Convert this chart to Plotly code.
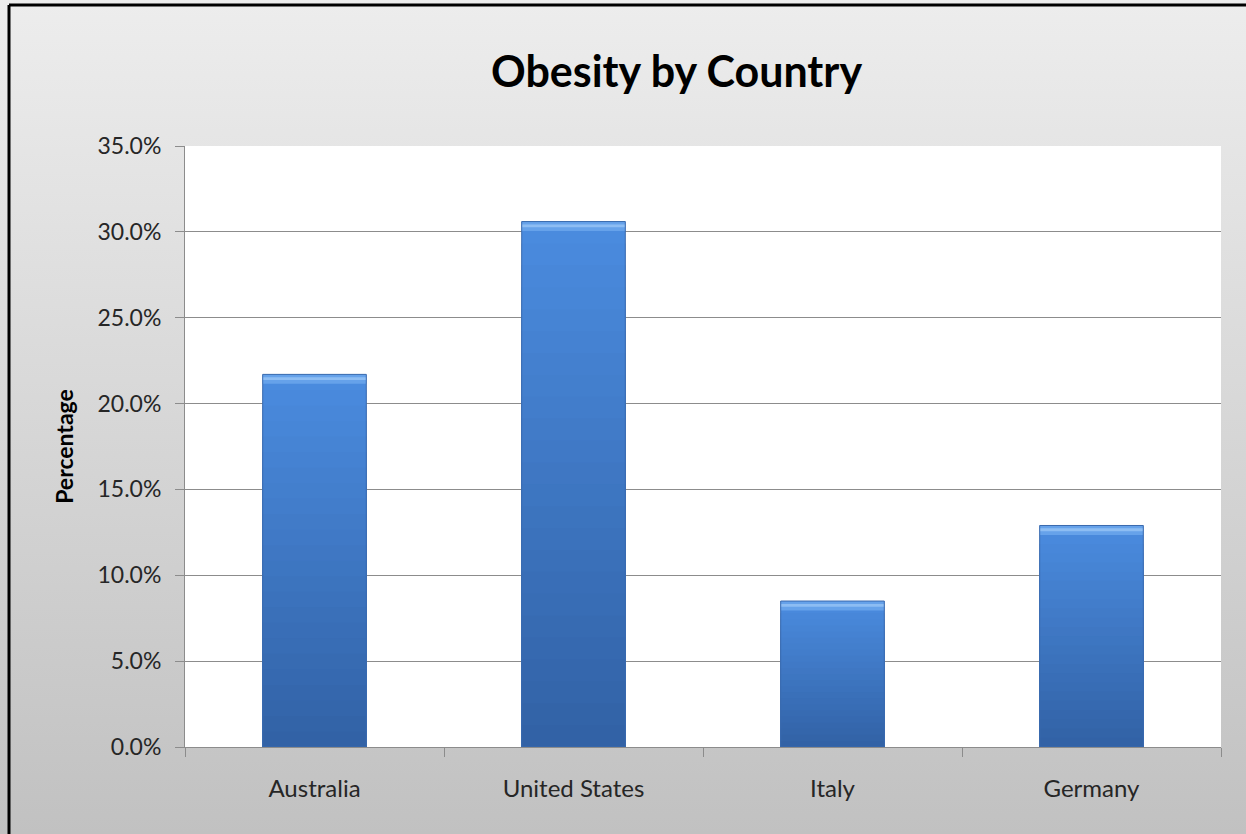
import base64
import plotly.graph_objects as go

# ---- data ----
countries = ["Australia", "United States", "Italy", "Germany"]
obesity = [0.217, 0.306, 0.085, 0.129]
y_ticks = [0.0, 0.05, 0.10, 0.15, 0.20, 0.25, 0.30, 0.35]

title_text = "Obesity by Country"
y_title = "Percentage"

# ---- geometry ----
W, H = 1246, 834
ML, MR, MT, MB = 185, 25, 146, 87
PW, PH = W - ML - MR, H - MT - MB


def px_x(p):
    return (p - ML) / PW


def px_y(p):
    return 1 - (p - MT) / PH


FONT = "Lato"

fig = go.Figure()

# vertical gradient inside each bar, built from overlaid bars
top_rgb = (0x4A, 0x8B, 0xDE)
bot_rgb = (0x32, 0x62, 0xA6)
N = 24
for i in range(N):
    frac = (N - i) / N
    t = i / (N - 1)
    c = tuple(round(top_rgb[k] + (bot_rgb[k] - top_rgb[k]) * t) for k in range(3))
    fig.add_trace(go.Bar(
        x=countries, y=[v * frac for v in obesity],
        marker=dict(color="rgb(%d,%d,%d)" % c, line=dict(width=0)),
        hoverinfo="skip", showlegend=False,
    ))

# bevel highlight at the top of each bar
bevel = 0.0055
fig.add_trace(go.Bar(
    x=countries, y=[bevel] * len(obesity), base=[v - bevel for v in obesity],
    marker=dict(color="#66A2EA", line=dict(width=0)),
    hoverinfo="skip", showlegend=False,
))
fig.add_trace(go.Bar(
    x=countries, y=[bevel * 0.3] * len(obesity), base=[v - bevel * 0.6 for v in obesity],
    marker=dict(color="#8DBDF3", line=dict(width=0)),
    hoverinfo="skip", showlegend=False,
))
# thin edge outline
fig.add_trace(go.Bar(
    x=countries, y=obesity,
    marker=dict(color="rgba(0,0,0,0)", line=dict(width=1, color="#3A6AAE")),
    hoverinfo="skip", showlegend=False,
))

# gradient chart background
svg = ('<svg xmlns="http://www.w3.org/2000/svg" width="100" height="100" preserveAspectRatio="none">'
       '<defs><linearGradient id="g" x1="0" y1="0" x2="0" y2="1">'
       '<stop offset="0" stop-color="#EDEDED"/><stop offset="1" stop-color="#C1C1C1"/>'
       '</linearGradient></defs><rect width="100" height="100" fill="url(#g)"/></svg>')
src = "data:image/svg+xml;base64," + base64.b64encode(svg.encode()).decode()

fig.update_layout(
    width=W, height=H,
    margin=dict(l=ML, r=MR, t=MT, b=MB, pad=0),
    paper_bgcolor="#D6D6D6",
    plot_bgcolor="white",
    barmode="overlay",
    bargap=0.6,
    font=dict(family=FONT, size=24, color="#262626"),
    images=[dict(source=src, xref="paper", yref="paper",
                 x=px_x(0), y=px_y(0), sizex=W / PW, sizey=H / PH,
                 sizing="stretch", layer="below", xanchor="left", yanchor="top")],
    annotations=[dict(text="<b>%s</b>" % title_text, xref="paper", yref="paper",
                      x=px_x(676), y=px_y(70), xanchor="center", yanchor="middle",
                      showarrow=False, font=dict(family=FONT, size=43, color="black"))],
    shapes=[
        # white plot area above the gradient image
        dict(type="rect", xref="x domain", yref="y domain", x0=0, x1=1, y0=0, y1=1,
             fillcolor="white", line=dict(width=0), layer="below"),
        dict(type="line", xref="paper", yref="paper", x0=px_x(9), x1=px_x(W + 5),
             y0=px_y(5), y1=px_y(5), line=dict(color="black", width=3)),
        dict(type="line", xref="paper", yref="paper", x0=px_x(9), x1=px_x(9),
             y0=px_y(5), y1=px_y(H + 5), line=dict(color="black", width=3)),
    ],
)

fig.update_yaxes(
    range=[0, 0.35], tickvals=y_ticks, tickformat=".1%",
    showgrid=True, gridcolor="#8C8C8C", gridwidth=1,
    showline=True, linecolor="#8C8C8C", linewidth=1,
    ticks="outside", ticklen=9, tickcolor="#8C8C8C",
    ticklabelstandoff=9, zeroline=False,
    tickfont=dict(family=FONT, size=23, color="#262626"),
    title=dict(text="<b>%s</b>" % y_title, standoff=17,
               font=dict(family=FONT, size=23, color="black")),
)
fig.update_xaxes(
    showline=True, linecolor="#8C8C8C", linewidth=1,
    ticks="outside", ticklen=9, tickcolor="#8C8C8C", tickson="boundaries",
    ticklabelstandoff=20,
    tickfont=dict(family=FONT, size=24, color="#262626"),
)

fig.write_html("out.html", config={"displayModeBar": False},
               post_script="document.body.style.margin='0';")
